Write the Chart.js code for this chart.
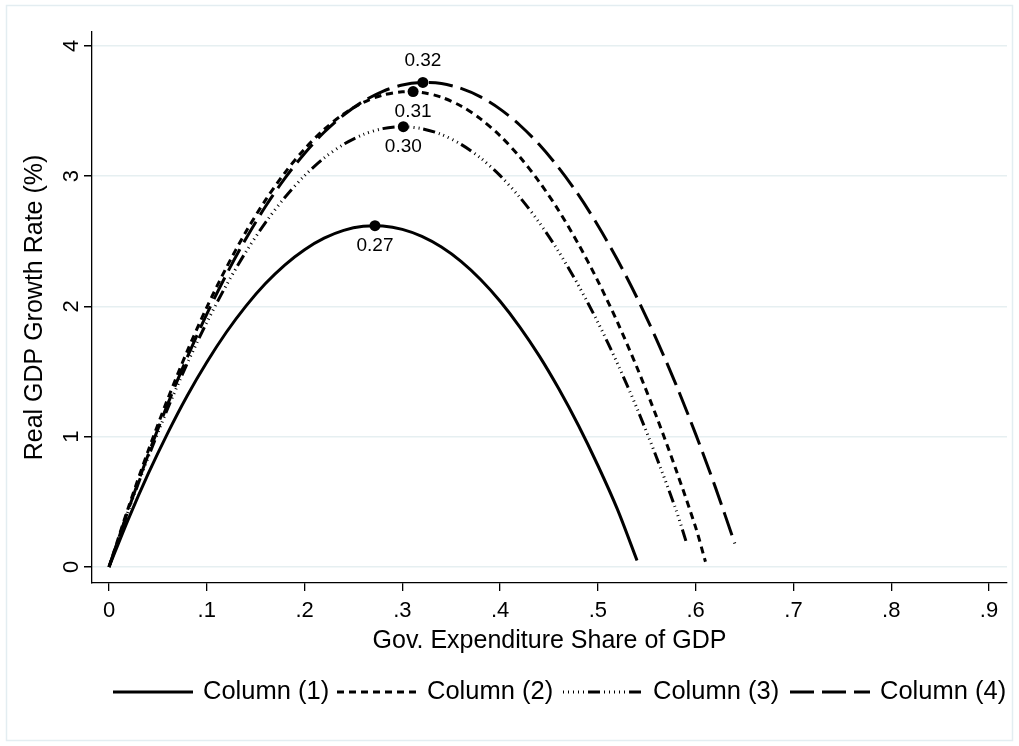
<!DOCTYPE html>
<html>
<head>
<meta charset="utf-8">
<script src="https://cdn.jsdelivr.net/npm/chart.js@4.4.1/dist/chart.umd.min.js"></script>
<style>
  html, body { margin: 0; padding: 0; background: #ffffff; }
  #wrap { width: 1019px; height: 746px; }
</style>
</head>
<body>
<div id="wrap"><canvas id="c" width="1019" height="746"></canvas></div>
<script>
// ---- data ----
const seriesNames = ['Column (1)', 'Column (2)', 'Column (3)', 'Column (4)'];

const xCol1 = [0,0.02,0.04,0.06,0.08,0.10,0.12,0.14,0.16,0.18,0.20,0.22,0.24,0.26,0.28,0.30,0.32,0.34,0.36,0.38,0.40,0.42,0.44,0.46,0.48,0.50,0.52,0.54];
const yCol1 = [0,0.371,0.714,1.028,1.315,1.572,1.802,2.003,2.176,2.320,2.436,2.524,2.584,2.615,2.618,2.592,2.538,2.456,2.346,2.207,2.040,1.844,1.621,1.368,1.088,0.779,0.442,0.05];

const xCol2 = [0,0.02,0.04,0.06,0.08,0.10,0.12,0.14,0.16,0.18,0.20,0.22,0.24,0.26,0.28,0.30,0.32,0.34,0.36,0.38,0.40,0.42,0.44,0.46,0.48,0.50,0.52,0.54,0.56,0.58,0.60,0.61];
const yCol2 = [0,0.461,0.891,1.289,1.657,1.993,2.298,2.573,2.816,3.028,3.209,3.359,3.478,3.566,3.623,3.648,3.643,3.606,3.539,3.440,3.310,3.149,2.957,2.735,2.480,2.195,1.879,1.531,1.153,0.744,0.304,0.04];

const xCol3 = [0,0.02,0.04,0.06,0.08,0.10,0.12,0.14,0.16,0.18,0.20,0.22,0.24,0.26,0.28,0.30,0.32,0.34,0.36,0.38,0.40,0.42,0.44,0.46,0.48,0.50,0.52,0.54,0.56,0.58,0.59];
const yCol3 = [0,0.436,0.841,1.217,1.562,1.878,2.163,2.419,2.644,2.839,3.004,3.140,3.245,3.320,3.365,3.38,3.365,3.320,3.245,3.140,3.004,2.839,2.644,2.419,2.163,1.878,1.562,1.217,0.841,0.436,0.20];

const xCol4 = [0,0.02,0.04,0.06,0.08,0.10,0.12,0.14,0.16,0.18,0.20,0.22,0.24,0.26,0.28,0.30,0.32,0.34,0.36,0.38,0.40,0.42,0.44,0.46,0.48,0.50,0.52,0.54,0.56,0.58,0.60,0.62,0.64];
const yCol4 = [0,0.445,0.862,1.250,1.610,1.942,2.245,2.520,2.767,2.985,3.175,3.337,3.470,3.575,3.652,3.700,3.719,3.711,3.674,3.609,3.515,3.393,3.243,3.064,2.858,2.622,2.359,2.067,1.746,1.398,1.020,0.615,0.181];

const peakX = [0.272, 0.311, 0.301, 0.321];
const peakY = [2.62, 3.65, 3.38, 3.72];
const peakLabels = ['0.27', '0.31', '0.30', '0.32'];
const peakLabelSide = ['below', 'below', 'below', 'above'];

const xTicks = [0, 0.1, 0.2, 0.3, 0.4, 0.5, 0.6, 0.7, 0.8, 0.9];
const xTickLabels = ['0', '.1', '.2', '.3', '.4', '.5', '.6', '.7', '.8', '.9'];
const yTicks = [0, 1, 2, 3, 4];
const yTickLabels = ['0', '1', '2', '3', '4'];

const xTitle = 'Gov. Expenditure Share of GDP';
const yTitle = 'Real GDP Growth Rate (%)';

// ---- styles ----
const FONT = "'Liberation Sans', Arial, Helvetica, sans-serif";
const dashes = [[], [7, 5], [12, 4, 1, 4, 1, 4, 1, 4, 1, 4, 1, 4], [24, 8]];
const LW = 3;

function pts(xs, ys) { return xs.map((x, i) => ({ x: x, y: ys[i] })); }
const curves = [pts(xCol1, yCol1), pts(xCol2, yCol2), pts(xCol3, yCol3), pts(xCol4, yCol4)];

const datasets = curves.map((d, i) => ({
  label: seriesNames[i],
  data: d,
  showLine: true,
  borderColor: '#000',
  borderWidth: LW,
  borderDash: dashes[i],
  borderCapStyle: 'butt',
  pointRadius: 0,
  pointHoverRadius: 0,
  tension: 0.3,
  fill: false,
  order: 2
}));
datasets.push({
  label: 'peaks',
  data: pts(peakX, peakY),
  showLine: false,
  pointRadius: 5.5,
  pointBackgroundColor: '#000',
  pointBorderColor: '#000',
  borderWidth: 0,
  order: 1
});

const decor = {
  id: 'decor',
  beforeDraw(chart) {
    const ctx = chart.ctx;
    ctx.save();
    ctx.fillStyle = '#fff';
    ctx.fillRect(0, 0, chart.width, chart.height);
    ctx.strokeStyle = '#e3edf1';
    ctx.lineWidth = 1.5;
    ctx.strokeRect(6.5, 5.5, 1006, 735);
    ctx.restore();
  },
  afterDraw(chart) {
    const ctx = chart.ctx;
    const xs = chart.scales.x, ys = chart.scales.y;
    ctx.save();
    ctx.fillStyle = '#000';
    // y tick labels (rotated)
    ctx.font = '22px ' + FONT;
    ctx.textAlign = 'center';
    ctx.textBaseline = 'middle';
    yTicks.forEach((v, i) => {
      const py = ys.getPixelForValue(v);
      ctx.save();
      ctx.translate(72, py);
      ctx.rotate(-Math.PI / 2);
      ctx.fillText(yTickLabels[i], 0, 0);
      ctx.restore();
    });
    // x tick labels
    xTicks.forEach((v, i) => {
      ctx.fillText(xTickLabels[i], xs.getPixelForValue(v), 611);
    });
    // axis titles
    ctx.font = '25px ' + FONT;
    ctx.fillText(xTitle, (chart.chartArea.left + chart.chartArea.right) / 2, 641);
    ctx.save();
    ctx.translate(35, (chart.chartArea.top + chart.chartArea.bottom) / 2);
    ctx.rotate(-Math.PI / 2);
    ctx.fillText(yTitle, 0, 0);
    ctx.restore();
    // peak labels
    ctx.font = '19px ' + FONT;
    peakX.forEach((v, i) => {
      const px = xs.getPixelForValue(v);
      const py = ys.getPixelForValue(peakY[i]);
      ctx.fillText(peakLabels[i], px, py + (peakLabelSide[i] === 'above' ? -22 : 20));
    });
    // legend
    const legY = 692;
    const legX = [113, 337, 563, 790];
    ctx.font = '25.5px ' + FONT;
    ctx.textAlign = 'left';
    seriesNames.forEach((n, i) => {
      ctx.save();
      ctx.strokeStyle = '#000';
      ctx.lineWidth = LW;
      ctx.lineCap = 'butt';
      ctx.setLineDash(dashes[i]);
      if (i === 2) ctx.lineDashOffset = 16;
      ctx.beginPath();
      ctx.moveTo(legX[i], legY);
      ctx.lineTo(legX[i] + 80, legY);
      ctx.stroke();
      ctx.restore();
      ctx.fillText(n, legX[i] + 90, legY);
    });
    ctx.restore();
  }
};

new Chart(document.getElementById('c'), {
  type: 'scatter',
  data: { datasets: datasets },
  plugins: [decor],
  options: {
    responsive: false,
    animation: false,
    devicePixelRatio: 1,
    layout: { padding: { left: 0, right: 12, top: 32, bottom: 0 } },
    plugins: { legend: { display: false }, tooltip: { enabled: false } },
    scales: {
      x: {
        type: 'linear',
        min: -0.0174,
        max: 0.9184,
        afterBuildTicks: s => { s.ticks = xTicks.map(v => ({ value: v })); },
        afterFit: s => { s.height = 746 - 583; },
        ticks: { display: false },
        grid: { drawOnChartArea: false, tickColor: '#000', tickLength: 8, lineWidth: 1.3 },
        border: { display: true, color: '#000', width: 1.3 }
      },
      y: {
        type: 'linear',
        min: -0.123,
        max: 4.107,
        afterBuildTicks: s => { s.ticks = yTicks.map(v => ({ value: v })); },
        afterFit: s => { s.width = 92; },
        ticks: { display: false },
        grid: { drawOnChartArea: true, color: '#e6eff1', tickColor: '#000', tickLength: 8, lineWidth: 1.5 },
        border: { display: true, color: '#000', width: 1.3 }
      }
    }
  }
});
</script>
</body>
</html>
